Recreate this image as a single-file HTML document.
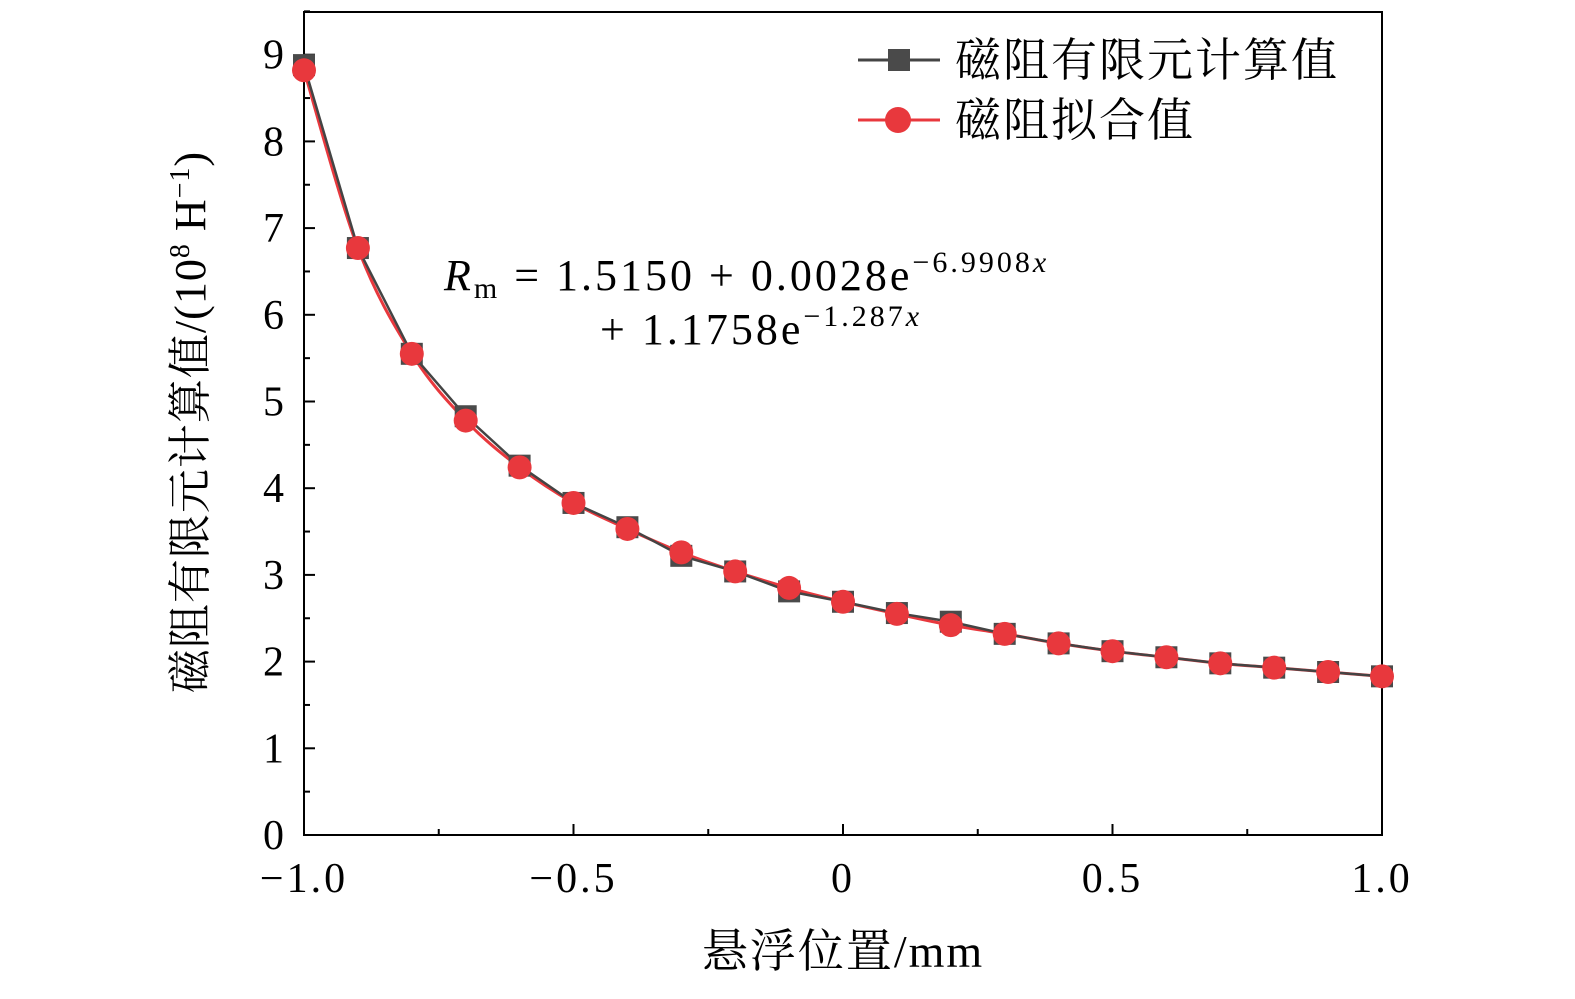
<!DOCTYPE html>
<html><head><meta charset="utf-8"><style>
body{margin:0;background:#fff;width:1575px;height:994px;overflow:hidden}
svg text{font-family:"Liberation Serif","Noto Serif CJK SC",serif;fill:#000}
</style></head><body>
<svg id="chart" width="1575" height="994">
<rect x="304" y="12" width="1078" height="823" fill="none" stroke="#000" stroke-width="2"/>
<g id="axes"></g>
<path id="redLine" fill="none" stroke="#e8383d" stroke-width="3"/>
<polyline id="blackLine" fill="none" stroke="#444" stroke-width="2.5"/>
<g id="marks"></g>
<text x="205" y="422" font-size="44" letter-spacing="1" transform="rotate(-90 205 422)" text-anchor="middle">磁阻有限元计算值/(10<tspan font-size="28" dy="-16">8</tspan><tspan dy="16"> H</tspan><tspan font-size="28" dy="-16">−1</tspan><tspan dy="16">)</tspan></text>
<text x="843" y="967" font-size="46" letter-spacing="2" text-anchor="middle">悬浮位置/mm</text>
<g>
<text x="444" y="290" font-size="44" letter-spacing="3"><tspan font-style="italic">R</tspan><tspan font-size="30" dy="8">m</tspan><tspan dy="-8"> = 1.5150 + 0.0028e</tspan><tspan font-size="30" dy="-18">−6.9908<tspan font-style="italic">x</tspan></tspan></text>
<text x="600" y="344" font-size="44" letter-spacing="3">+ 1.1758e<tspan font-size="30" dy="-18">−1.287<tspan font-style="italic">x</tspan></tspan></text>
</g>
<g>
<line x1="858" y1="60" x2="940" y2="60" stroke="#444" stroke-width="3"/>
<rect x="888" y="49" width="22" height="22" fill="#4a4a4a"/>
<text x="955" y="76" font-size="46" letter-spacing="2">磁阻有限元计算值</text>
<line x1="858" y1="120" x2="940" y2="120" stroke="#e8383d" stroke-width="3"/>
<circle cx="898" cy="120" r="13" fill="#e8383d"/>
<text x="955" y="136" font-size="46" letter-spacing="2">磁阻拟合值</text>
</g>
</svg>
<script>
const xs=[-1,-0.9,-0.8,-0.7,-0.6,-0.5,-0.4,-0.3,-0.2,-0.1,0,0.1,0.2,0.3,0.4,0.5,0.6,0.7,0.8,0.9,1.0];
const femVals=[8.88,6.77,5.55,4.83,4.26,3.83,3.55,3.22,3.04,2.81,2.69,2.56,2.46,2.32,2.21,2.12,2.05,1.98,1.93,1.88,1.83];
const fitVals=[8.82,6.77,5.55,4.78,4.24,3.83,3.53,3.26,3.04,2.85,2.69,2.55,2.42,2.32,2.21,2.12,2.05,1.98,1.93,1.88,1.83];
const xTicks=[-1,-0.5,0,0.5,1];
const xTickLabels=["−1.0","−0.5","0","0.5","1.0"];
const yTicks=[0,1,2,3,4,5,6,7,8,9];
const NS="http://www.w3.org/2000/svg";
const X=v=>304+(v+1)/2*1078;
const Y=v=>835-v*86.7;
const axes=document.getElementById('axes');
function mk(t,a,p){const e=document.createElementNS(NS,t);for(const k in a)e.setAttribute(k,a[k]);p.appendChild(e);return e;}
xTicks.forEach((v,i)=>{
 const t=mk('line',{x1:X(v),x2:X(v),y1:835,y2:824,stroke:'#000','stroke-width':2},axes);
 
 
 const l=mk('text',{x:X(v),y:892,'font-size':42,'letter-spacing':3,'text-anchor':'middle'},axes);l.textContent=xTickLabels[i];
 
 
 if(i<xTicks.length-1){const m=mk('line',{x1:X(v+0.25),x2:X(v+0.25),y1:835,y2:829,stroke:'#000','stroke-width':2},axes);
 
 }
});
yTicks.forEach((v,i)=>{
 const t=mk('line',{x1:304,x2:315,y1:Y(v),y2:Y(v),stroke:'#000','stroke-width':2},axes);
 
 
 const l=mk('text',{x:284,y:Y(v)+14,'font-size':42,'text-anchor':'end'},axes);l.textContent=v;
 
 
 const m=mk('line',{x1:304,x2:310,y1:Y(v+0.5),y2:Y(v+0.5),stroke:'#000','stroke-width':2},axes);
 
 
});
document.getElementById('blackLine').setAttribute('points',xs.map((x,i)=>X(x)+','+Y(femVals[i])).join(' '));
const P=xs.map((x,i)=>[X(x),Y(fitVals[i])]);
let d='M'+P[0][0]+','+P[0][1];
for(let i=0;i<P.length-1;i++){const p0=P[Math.max(0,i-1)],p1=P[i],p2=P[i+1],p3=P[Math.min(P.length-1,i+2)];
 d+=` C${p1[0]+(p2[0]-p0[0])/6},${p1[1]+(p2[1]-p0[1])/6} ${p2[0]-(p3[0]-p1[0])/6},${p2[1]-(p3[1]-p1[1])/6} ${p2[0]},${p2[1]}`;}
document.getElementById('redLine').setAttribute('d',d);
const marks=document.getElementById('marks');
xs.forEach((x,i)=>{
 const r=mk('rect',{x:X(x)-11,y:Y(femVals[i])-11,width:22,height:22,fill:'#4a4a4a'},marks);
 
 
});
xs.forEach((x,i)=>{
 const c=mk('circle',{cx:X(x),cy:Y(fitVals[i]),r:12,fill:'#e8383d'},marks);
 
 
});
</script>
</body></html>
